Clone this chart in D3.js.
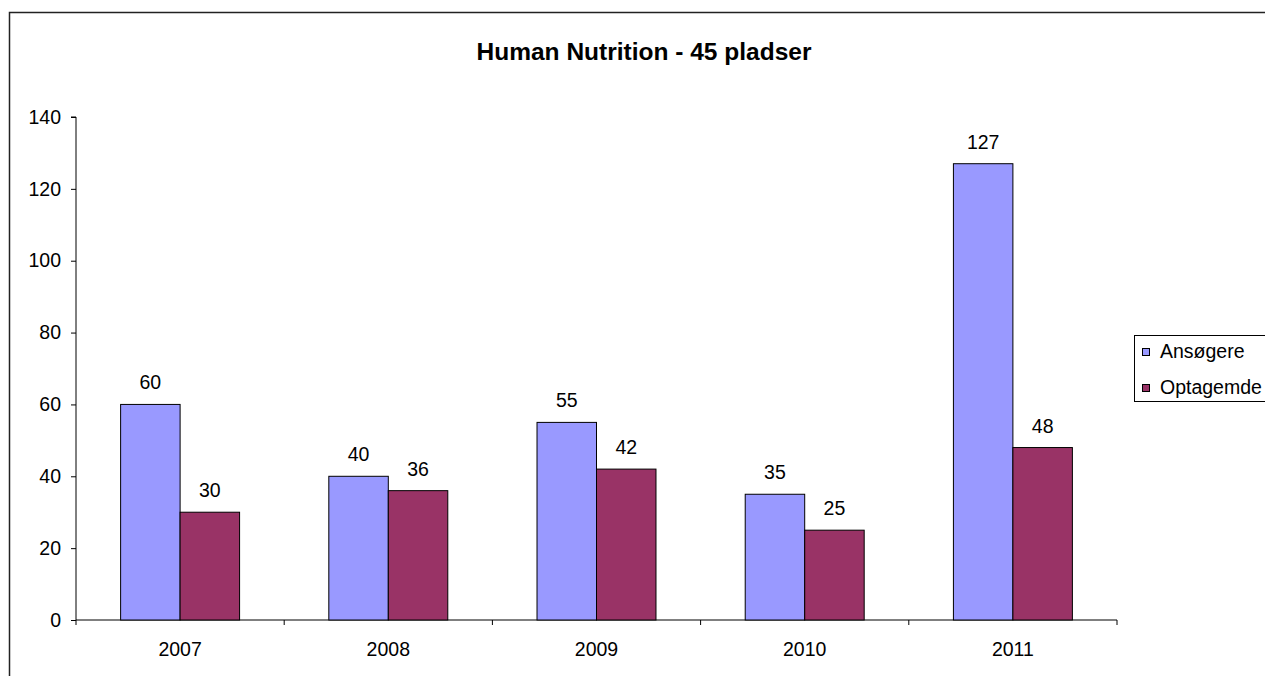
<!DOCTYPE html>
<html><head><meta charset="utf-8">
<script src="https://cdn.jsdelivr.net/npm/d3@7"></script>
<style>body{margin:0;background:#fff;}svg{display:block;font-family:"Liberation Sans",Arial,sans-serif;}</style>
</head><body><svg id="c" width="1265" height="676"></svg>
<script>
const title = "Human Nutrition - 45 pladser";
const categories = ["2007","2008","2009","2010","2011"];
const seriesNames = ["Ansøgere","Optagemde"];
const ansoegere = [60,40,55,35,127];
const optagemde = [30,36,42,25,48];
const yTicks = [0,20,40,60,80,100,120,140];
const colors = ["#9999FF","#993366"];

const FS = 19.5;
const svg = d3.select("#c");
svg.append("rect").attr("x",9.5).attr("y",12.5).attr("width",1300).attr("height",700)
  .attr("fill","#fff").attr("stroke","#222").attr("stroke-width",1.5);

const L=76, R=1117, T=117, B=620;
const x = d3.scaleBand().domain(categories).range([L,R]).paddingInner(0).paddingOuter(0);
// gap width 150%: bar = band/(2+1.5)
const bw = x.bandwidth()/3.5;
const y = d3.scaleLinear().domain([0,140]).range([B,T]);

svg.append("text").attr("x",644).attr("y",59.5).attr("text-anchor","middle")
  .attr("font-size",24.5).attr("font-weight","bold").text(title);

// y axis
const ya = svg.append("g").attr("transform",`translate(${L},0)`)
  .call(d3.axisLeft(y).tickValues(yTicks).tickSize(5).tickPadding(10));
ya.select(".domain").attr("stroke","#000").attr("d",`M-5,${T}H0V${B}`);
ya.selectAll("text").attr("font-size",FS).attr("fill","#000").attr("font-family","Liberation Sans, Arial");
ya.selectAll("line").attr("stroke","#000");

// x axis
const xa = svg.append("g").attr("transform",`translate(0,${B})`)
  .call(d3.axisBottom(x).tickSize(0).tickPadding(22));
xa.select(".domain").attr("stroke","#000").attr("d",`M${L},0H${R}`);
xa.selectAll("text").attr("font-size",FS).attr("fill","#000").attr("font-family","Liberation Sans, Arial");
const bounds = categories.map(c=>x(c)).concat([R]);
svg.append("g").selectAll("line").data(bounds).join("line")
  .attr("x1",d=>d).attr("x2",d=>d).attr("y1",B).attr("y2",B+5).attr("stroke","#000");

const data = [ansoegere, optagemde];
data.forEach((vals,si)=>{
  const g = svg.append("g");
  g.selectAll("rect").data(vals).join("rect")
    .attr("x",(d,i)=>x(categories[i]) + bw*0.75 + si*bw)
    .attr("y",d=>y(d)).attr("width",bw).attr("height",d=>B-y(d))
    .attr("fill",colors[si]).attr("stroke","#000").attr("stroke-width",1);
  g.selectAll("text").data(vals).join("text")
    .attr("x",(d,i)=>x(categories[i]) + bw*0.75 + si*bw + bw/2)
    .attr("y",d=>y(d)-15).attr("text-anchor","middle").attr("font-size",FS).text(d=>d);
});

// legend
const lg = svg.append("g");
lg.append("rect").attr("x",1134.5).attr("y",335.5).attr("width",140).attr("height",66)
  .attr("fill","#fff").attr("stroke","#000");
seriesNames.forEach((n,i)=>{
  const cy = 352.5 + i*36;
  lg.append("rect").attr("x",1142.5).attr("y",cy-4).attr("width",7).attr("height",7)
    .attr("fill",colors[i]).attr("stroke","#000");
  lg.append("text").attr("x",1160).attr("y",cy+5).attr("font-size",FS).text(n);
});
</script></body></html>
